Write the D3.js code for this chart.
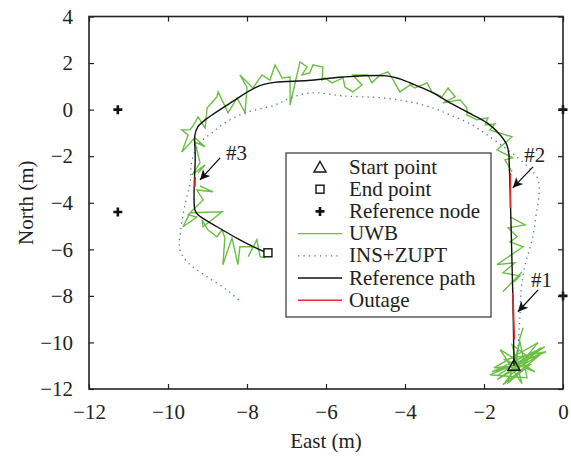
<!DOCTYPE html>
<html><head><meta charset="utf-8">
<script src="https://cdn.jsdelivr.net/npm/d3@7"></script>
<style>
body{margin:0;background:#fff;}
text{font-family:"Liberation Serif","Times New Roman",serif;fill:#222;}
</style></head>
<body><svg id="c" width="571" height="457"></svg>
<script>
// ---- data ----
const xTicks = [-12,-10,-8,-6,-4,-2,0];
const yTicks = [-12,-10,-8,-6,-4,-2,0,2,4];
const refNodes = [[-11.27,0],[-11.27,-4.4],[0,0],[0,-8]];
const startPoint = [-1.24,-11.0];
const endPoint = [-7.47,-6.15];
const refPath = [[-1.24,-11.0],[-1.27,-8.0],[-1.30,-6.0],[-1.33,-4.0],[-1.36,-2.4],[-1.37,-1.94],[-1.42,-1.52],[-1.59,-1.09],[-1.92,-0.57],[-2.43,-0.10],[-2.86,0.29],[-3.29,0.72],[-3.75,1.06],[-4.13,1.32],[-4.46,1.45],[-5.57,1.40],[-6.46,1.25],[-7.3,1.17],[-7.72,1.0],[-8.38,0.33],[-9.06,-0.44],[-9.25,-0.75],[-9.32,-1.1],[-9.31,-2.0],[-9.32,-4.30],[-9.24,-4.52],[-8.76,-5.03],[-8.18,-5.59],[-7.67,-6.02],[-7.47,-6.15]];
const outage1 = [[-1.27,-7.87],[-1.23,-9.88]];
const outage2 = [[-1.33,-2.72],[-1.33,-4.22]];
const outage3 = [[-9.31,-2.89],[-9.32,-3.32]];
const insZupt = [[-1.15,-10.4],[-1.09,-8.90],[-1.06,-7.74],[-0.96,-6.66],[-0.78,-5.59],[-0.68,-4.52],[-0.60,-3.45],[-0.65,-2.93],[-0.86,-2.50],[-1.14,-2.07],[-1.47,-1.64],[-1.85,-1.17],[-2.35,-0.61],[-2.86,-0.23],[-3.29,0.07],[-3.87,0.33],[-4.56,0.50],[-5.57,0.59],[-6.35,0.72],[-6.91,0.50],[-7.29,0.20],[-8.05,-0.14],[-8.56,-0.57],[-8.89,-1.0],[-9.19,-1.43],[-9.39,-2.16],[-9.44,-3.15],[-9.57,-4.09],[-9.67,-5.08],[-9.70,-6.02],[-9.49,-6.58],[-9.01,-7.18],[-8.51,-7.74],[-8.13,-8.30]];
// UWB segments (gaps are the outages)
const uwbSeg1 = [[-1.27,-11.0],[-1.80,-11.26],[-0.46,-10.18],[-1.67,-11.60],[-0.58,-10.53],[-1.52,-11.82],[-0.63,-10.01],[-1.75,-11.09],[-0.84,-10.96],[-1.39,-11.73],[-1.09,-9.97],[-0.91,-11.52],[-1.85,-11.39],[-0.43,-10.40],[-1.47,-10.74],[-0.71,-11.26],[-1.59,-10.31],[-1.04,-11.77],[-1.29,-10.10],[-0.89,-10.61],[-1.67,-11.43],[-0.56,-10.23],[-1.22,-11.26],[-1.09,-9.80],[-1.01,-9.37]];
const uwbSeg2 = [[-1.52,-7.82],[-1.04,-6.97],[-1.24,-7.40],[-1.09,-7.14],[-1.52,-7.01],[-1.22,-6.58],[-1.67,-6.66],[-1.01,-5.89],[-1.34,-5.68],[-1.16,-5.46],[-1.39,-5.08],[-0.96,-4.95],[-1.34,-4.61]];
const uwbSeg3 = [[-1.29,-2.68],[-1.47,-2.16],[-1.27,-2.07],[-1.67,-1.73],[-1.29,-1.17],[-1.85,-0.87],[-1.72,-0.61],[-1.97,-0.66],[-1.90,-0.36],[-2.18,-0.44],[-2.43,-0.23],[-2.43,0.07],[-2.61,0.42],[-3.04,0.29],[-2.73,0.55],[-2.91,0.93],[-3.06,0.55],[-3.32,0.76],[-3.44,1.15],[-3.75,0.93],[-3.87,1.06],[-4.13,0.76],[-4.33,1.36],[-4.43,1.62],[-4.63,1.49],[-4.84,1.15],[-4.94,1.49],[-5.32,1.49],[-5.09,1.06],[-5.32,0.76],[-5.52,0.97],[-5.57,1.36],[-5.85,1.15],[-6.03,1.36],[-6.10,1.27],[-6.08,1.83],[-6.33,1.92],[-6.41,1.58],[-6.61,1.49],[-6.48,1.83],[-6.66,2.05],[-6.91,0.20],[-6.91,1.40],[-7.11,1.36],[-7.29,1.92],[-7.42,1.27],[-7.62,1.49],[-7.85,0.93],[-8.18,1.49],[-8.00,0.97],[-8.05,-0.14],[-8.25,0.50],[-8.48,-0.14],[-8.73,0.76],[-8.76,0.55],[-9.01,0.07],[-9.06,-0.79],[-9.24,-0.31],[-9.32,-0.57],[-9.44,-0.87],[-9.65,-0.87],[-9.49,-1.09],[-9.65,-1.82],[-9.32,-1.21],[-9.06,-1.60],[-9.32,-1.39],[-9.27,-1.73],[-9.19,-2.29],[-9.39,-2.80],[-9.06,-2.37],[-9.24,-2.72]];
const uwbSeg4 = [[-9.19,-3.28],[-8.86,-3.53],[-9.27,-3.45],[-9.11,-3.88],[-9.32,-4.22],[-9.49,-4.52],[-9.27,-4.61],[-9.62,-5.03],[-9.44,-4.43],[-8.63,-4.39],[-9.11,-5.03],[-9.14,-4.73],[-8.99,-5.16],[-8.76,-5.46],[-8.63,-5.16],[-8.56,-5.51],[-8.61,-6.66],[-8.38,-5.51],[-8.23,-6.66],[-8.18,-5.89],[-7.85,-5.89],[-7.97,-6.32],[-7.75,-5.59],[-7.67,-6.32],[-7.54,-6.36]];
const annotations = [
  {label:"#1", tx:-0.81, ty:-7.61, from:[-0.63,-7.74], to:[-1.14,-8.68]},
  {label:"#2", tx:-0.98, ty:-2.24, from:[-0.76,-2.46], to:[-1.27,-3.36]},
  {label:"#3", tx:-8.53, ty:-2.16, from:[-8.68,-2.07], to:[-9.19,-3.02]}
];
const legendLabels = ["Start point","End point","Reference node","UWB","INS+ZUPT","Reference path","Outage"];

// ---- chart ----
const FS=21;
const colUWB="#6cbf45", colINS="#4a74c9", colRef="#111", colOut="#e52b2b";
const svg=d3.select("#c");
const L=89,R=563,T=16.5,B=389;
const x=d3.scaleLinear().domain([-12,0]).range([L,R]);
const y=d3.scaleLinear().domain([-12,4]).range([B,T]);
const line=d3.line().x(d=>x(d[0])).y(d=>y(d[1]));
const smooth=d3.line().curve(d3.curveCatmullRom).x(d=>x(d[0])).y(d=>y(d[1]));

const g=svg.append("g");
[uwbSeg1,uwbSeg2,uwbSeg3,uwbSeg4].forEach(s=>g.append("path").attr("d",line(s)).attr("fill","none").attr("stroke",colUWB).attr("stroke-width",1.4));
g.append("path").attr("d",smooth(insZupt)).attr("fill","none").attr("stroke",colINS).attr("stroke-width",1.3).attr("stroke-dasharray","1.3,4.2");
g.append("path").attr("d",smooth(refPath)).attr("fill","none").attr("stroke",colRef).attr("stroke-width",1.4);
[outage1,outage2,outage3].forEach(s=>g.append("path").attr("d",line(s)).attr("fill","none").attr("stroke",colOut).attr("stroke-width",1.6));

function plus(sel,cx,cy,s){sel.append("path").attr("d",`M${cx-s},${cy}H${cx+s}M${cx},${cy-s}V${cy+s}`).attr("stroke","#111").attr("stroke-width",2.6).attr("fill","none");}
refNodes.forEach(d=>plus(g,x(d[0]),y(d[1]),4.5));
function tri(sel,cx,cy){sel.append("path").attr("d",`M${cx},${cy-6}L${cx+6},${cy+4.5}L${cx-6},${cy+4.5}Z`).attr("fill","none").attr("stroke","#111").attr("stroke-width",1.4);}
function sq(sel,cx,cy){sel.append("rect").attr("x",cx-4).attr("y",cy-4).attr("width",8).attr("height",8).attr("fill","#fff").attr("stroke","#111").attr("stroke-width",1.4);}
tri(g,x(startPoint[0]),y(startPoint[1]));
sq(g,x(endPoint[0]),y(endPoint[1]));

// annotations
svg.append("defs").append("marker").attr("id","ah").attr("viewBox","0 0 10 10").attr("refX",10).attr("refY",5)
  .attr("markerWidth",12).attr("markerHeight",10).attr("markerUnits","userSpaceOnUse").attr("orient","auto")
  .append("path").attr("d","M0,0L10,5L0,10L2.5,5Z").attr("fill","#111");
annotations.forEach(a=>{
  g.append("line").attr("x1",x(a.from[0])).attr("y1",y(a.from[1])).attr("x2",x(a.to[0])).attr("y2",y(a.to[1]))
   .attr("stroke","#111").attr("stroke-width",1.3).attr("marker-end","url(#ah)");
  g.append("text").attr("x",x(a.tx)).attr("y",y(a.ty)).attr("font-size",FS).text(a.label);
});

// axes
const ax=svg.append("g").attr("transform",`translate(0,${B})`).call(d3.axisBottom(x).tickValues(xTicks).tickSizeInner(-5).tickSizeOuter(0).tickPadding(15));
const ay=svg.append("g").attr("transform",`translate(${L},0)`).call(d3.axisLeft(y).tickValues(yTicks).tickSizeInner(-5).tickSizeOuter(0).tickPadding(16));
const axT=svg.append("g").attr("transform",`translate(0,${T})`).call(d3.axisTop(x).tickValues(xTicks).tickSizeInner(-5).tickSizeOuter(0).tickFormat(""));
const ayR=svg.append("g").attr("transform",`translate(${R},0)`).call(d3.axisRight(y).tickValues(yTicks).tickSizeInner(-5).tickSizeOuter(0).tickFormat(""));
[ax,ay,axT,ayR].forEach(a=>{a.select(".domain").remove();a.selectAll("line").attr("stroke","#222").attr("stroke-width",1.2);a.selectAll("text").attr("font-size",FS).attr("font-family","Liberation Serif").attr("fill","#222");});
svg.append("rect").attr("x",L).attr("y",T).attr("width",R-L).attr("height",B-T).attr("fill","none").attr("stroke","#222").attr("stroke-width",1.6);

svg.append("text").attr("x",(L+R)/2).attr("y",448).attr("text-anchor","middle").attr("font-size",FS).text("East (m)");
svg.append("text").attr("transform",`translate(33,${(T+B)/2}) rotate(-90)`).attr("text-anchor","middle").attr("font-size",FS).text("North (m)");

// legend
const lg=svg.append("g");
lg.append("rect").attr("x",286).attr("y",153).attr("width",205).attr("height",164).attr("fill","#fff").attr("stroke","#222").attr("stroke-width",1.1);
legendLabels.forEach((t,i)=>{
  const cy=167+i*22.2;
  if(i===0) tri(lg,320,cy+0.5);
  else if(i===1) sq(lg,320,cy);
  else if(i===2) plus(lg,320,cy,4.5);
  else {
    const st=[null,null,null,[colUWB,null],[colINS,"1.3,4.2"],[colRef,null],[colOut,null]][i];
    lg.append("line").attr("x1",298).attr("x2",342).attr("y1",cy).attr("y2",cy).attr("stroke",st[0]).attr("stroke-width",i===4?1.3:1.4).attr("stroke-dasharray",st[1]);
  }
  lg.append("text").attr("x",349).attr("y",cy+6.5).attr("font-size",FS).text(t);
});
</script></body></html>
